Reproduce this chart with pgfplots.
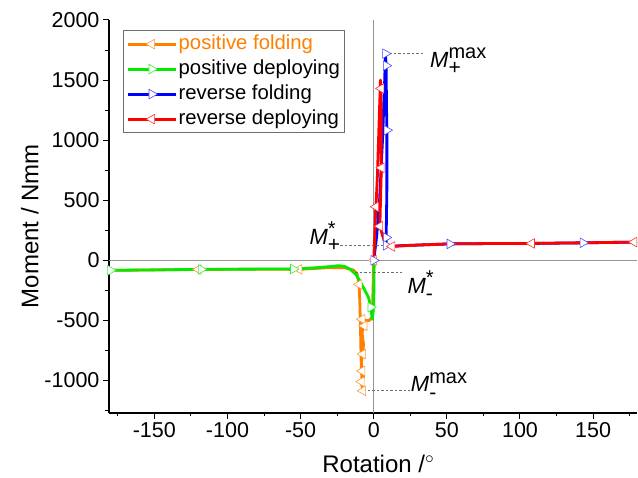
\documentclass[border=0pt]{standalone}
\usepackage{fontspec}
\setmainfont{Liberation Sans}
\usepackage{pgfplots}
\pgfplotsset{compat=1.18}

\definecolor{cOrange}{RGB}{255,128,0}
\definecolor{cGreen}{RGB}{0,235,0}
\definecolor{cBlue}{RGB}{0,0,255}
\definecolor{cRed}{RGB}{255,0,0}
\definecolor{zerogray}{RGB}{150,150,150}
\definecolor{dashgray}{RGB}{110,110,110}

% M with stacked super- and subscript
\newcommand{\Mlab}[2]{{\fontsize{22}{22}\selectfont\itshape M}%
  \makebox[0pt][l]{\raisebox{8.5pt}{\fontsize{20}{20}\selectfont #1}}%
  \raisebox{-7.5pt}{\fontsize{21}{21}\selectfont #2}}

\begin{document}
\begin{tikzpicture}[x=1pt,y=1pt]
\begin{axis}[
  at={(109pt,65pt)}, anchor=south west,
  width=528pt, height=393pt, scale only axis,
  xmin=-181, xmax=180, ymin=-1270, ymax=2000,
  axis x line*=bottom, axis y line*=left,
  axis line style={-, line width=1.2pt, black},
  xtick={-150,-100,...,150}, minor xtick={-175,-125,...,175},
  ytick={-1000,-500,...,2000}, minor ytick={-1250,-750,...,1750},
  tick align=outside, major tick length=6pt, minor tick length=3.5pt,
  tick style={black, line width=1pt},
  /pgf/number format/assume math mode=true,
  /pgf/number format/1000 sep={},
  ticklabel style={font=\fontsize{21.5}{21.5}\selectfont},
  xlabel={Rotation /$^{\circ}$},
  ylabel={Moment / Nmm},
  xlabel style={at={(axis description cs:0.51,-0.13)}, anchor=center, font=\fontsize{24}{24}\selectfont},
  ylabel style={at={(axis description cs:-0.15,0.475)}, anchor=center, font=\fontsize{24}{24}\selectfont},
  legend style={at={(axis description cs:0.0265,0.9746)}, anchor=north west,
    draw=dashgray, line width=0.8pt, inner xsep=3pt, inner ysep=3pt,
    font=\fontsize{20.3}{20.3}\selectfont,
    nodes={inner sep=1.5pt, text height=14.5pt, text depth=4pt},
    row sep=3.5pt, cells={anchor=west}},
  legend image code/.code={\draw[#1, mark indices={2}] plot coordinates {(0pt,0pt) (24pt,0pt) (48pt,0pt)};},
  every axis plot/.append style={line join=round, mark size=5.6pt},
]
% zero lines
\addplot[zerogray, line width=0.9pt, forget plot] coordinates {(0,-1270) (0,2000)};
\addplot[zerogray, line width=0.9pt, forget plot] coordinates {(-181,0) (180,0)};

% positive folding
\addplot[cOrange, line width=2.8pt, mark=triangle*,
  mark options={solid, rotate=90, fill=white, draw=cOrange!80!white, line width=0.6pt},
  mark indices={1,6,7,10,12,14,15,19,24,26}] coordinates {
(0,0) (-0.5,-250) (-1,-470) (-3,-500) (-5,-500)
(-8,-490) (-6.5,-545) (-8,-600) (-7,-700) (-7.5,-780)
(-8.5,-850) (-8,-920) (-7,-970) (-8.5,-1010) (-7.5,-1085)
(-8.5,-900) (-9,-600) (-9.5,-350) (-10,-200) (-11.5,-110)
(-14,-80) (-20,-62) (-30,-60) (-51,-75) (-90,-74)
(-120,-76) (-150,-80) (-180,-83)
};
\addlegendentry{\textcolor{cOrange}{positive folding}}

% positive deploying
\addplot[cGreen, line width=2.8pt, mark=triangle*,
  mark options={solid, rotate=-90, fill=white, draw=cGreen!80!white, line width=0.6pt},
  mark indices={1,3,5,15}] coordinates {
(-180,-83) (-150,-79) (-118,-75) (-90,-73) (-55,-72)
(-40,-62) (-30,-52) (-24,-44) (-20,-50) (-16,-75)
(-12,-120) (-9,-183) (-6,-250) (-3.5,-310) (-2,-390)
(-1,-490) (0,-380) (0.3,0)
};
\addlegendentry{positive deploying}

% reverse folding
\addplot[cBlue, line width=2.8pt, mark=triangle*,
  mark options={solid, rotate=-90, fill=white, draw=cBlue!70!white, line width=0.6pt},
  mark indices={1,6,7,9,11,12,15,18}] coordinates {
(0,0) (2,200) (4,500) (6,1000) (7.5,1500)
(8,1720) (8.5,1620) (8.7,1300) (9,1083) (9,600)
(8.5,190) (8.5,125) (12,118) (25,125) (52,137)
(80,140) (110,141) (143,146) (180,152)
};
\addlegendentry{reverse folding}

% reverse deploying
\addplot[cRed, line width=2.8pt, mark=triangle*,
  mark options={solid, rotate=90, fill=white, draw=cRed!80!white, line width=0.6pt},
  mark indices={1,3,7,10,11,12,17}] coordinates {
(178,152) (143,146) (108,141) (80,140) (52,137)
(25,125) (12.5,116) (8,125) (6.2,200) (4.2,284)
(5.2,770) (5,1430) (4.6,1500) (3.8,1200) (2.5,700)
(1.8,520) (1.4,446) (0.5,150) (0,0)
};
\addlegendentry{reverse deploying}

% guide lines to characteristic moments
\addplot[dashgray, line width=0.7pt, dash pattern=on 2.5pt off 2pt, forget plot] coordinates {(7.7,1722) (35,1722)};
\addplot[dashgray, line width=0.7pt, dash pattern=on 2.5pt off 2pt, forget plot] coordinates {(-23,122) (8.8,122)};
\addplot[dashgray, line width=0.7pt, dash pattern=on 2.5pt off 2pt, forget plot] coordinates {(-12.8,-98) (19.1,-98)};
\addplot[dashgray, line width=0.7pt, dash pattern=on 2.5pt off 2pt, forget plot] coordinates {(-7.1,-1085) (24.8,-1085)};

\node[anchor=base west, inner sep=0pt] at (axis cs:38.5,1606) {\Mlab{max}{+}};
\node[anchor=base west, inner sep=0pt] at (axis cs:-44,136) {\Mlab{*}{+}};
\node[anchor=base west, inner sep=0pt] at (axis cs:23,-274) {\Mlab{*}{-}};
\node[anchor=base west, inner sep=0pt] at (axis cs:25.3,-1093) {\Mlab{max}{-}};
\end{axis}
\pgfresetboundingbox
\path[use as bounding box] (0,0) rectangle (638pt,478pt);
\end{tikzpicture}
\end{document}
